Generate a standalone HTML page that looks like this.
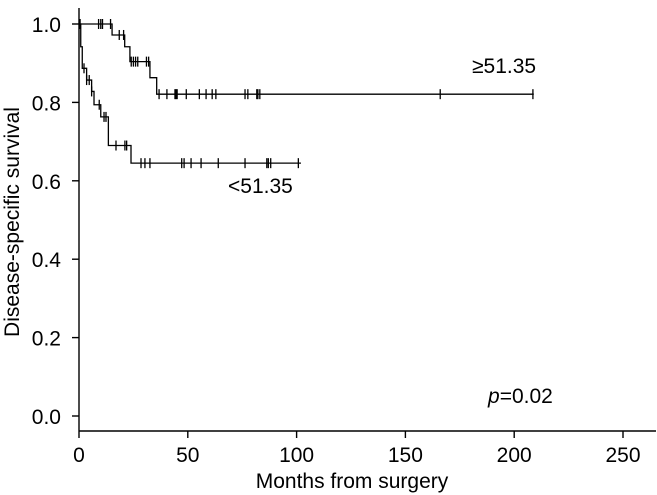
<!DOCTYPE html>
<html><head><meta charset="utf-8"><style>
html,body{margin:0;padding:0;background:#fff}
svg{display:block;font-family:"Liberation Sans",Arial,sans-serif}
</style></head><body>
<svg id="c" width="657" height="495" xmlns="http://www.w3.org/2000/svg"></svg>
<script>
const xTicks=[0,50,100,150,200,250];
const yTicks=[0.0,0.2,0.4,0.6,0.8,1.0];
const highTimes=[0,15.2,21,23.4,32.6,35.7,209];
const highSurv=[1.0,0.972,0.942,0.904,0.863,0.821,0.821];
const highCensor=[0.3,9,10,10.8,14.5,18.5,20.5,24,25,26,27,31,32,36.8,40.4,44.1,44.6,45.1,49.3,55.3,58.4,61.2,62.9,76.3,77.6,81.7,82.2,83.1,166,208.6];
const lowTimes=[0,0.8,1.5,3.5,5.8,6.9,10,13.5,23.9,102];
const lowSurv=[1.0,0.942,0.887,0.857,0.828,0.794,0.763,0.69,0.645,0.645];
const lowCensor=[0.5,2.3,3.5,4.7,5.8,9.3,11.5,12.4,17,21.1,21.9,28.5,30.3,32.6,47.2,48.3,51.5,56.1,64,76.3,86.3,87,88.1,100.8];

const svg=document.getElementById('c');
const NS='http://www.w3.org/2000/svg';
const X=m=>79+m*2.176;
const Y=s=>416-s*392;
function el(t,a,p){const e=document.createElementNS(NS,t);for(const k in a)e.setAttribute(k,a[k]);(p||svg).appendChild(e);return e;}

let ax=el('line',{x1:79,y1:8,x2:79,y2:431,stroke:'#000','stroke-width':1.4});


let bx=el('line',{x1:79,y1:431,x2:656,y2:431,stroke:'#000','stroke-width':1.4});



xTicks.forEach(v=>{
  el('line',{x1:X(v),y1:431,x2:X(v),y2:438,stroke:'#000','stroke-width':1.4});
  const t=el('text',{x:X(v),y:462,'font-size':21,'text-anchor':'middle'});
  t.textContent=v;
  
  
});
yTicks.forEach(v=>{
  el('line',{x1:72,y1:Y(v),x2:79,y2:Y(v),stroke:'#000','stroke-width':1.4});
  const t=el('text',{x:61,y:Y(v)+8,'font-size':21,'text-anchor':'end'});
  t.textContent=v.toFixed(1);
  
  
});
let xt=el('text',{x:352,y:488,'font-size':21,'text-anchor':'middle'});
xt.textContent='Months from surgery';


let yt=el('text',{x:0,y:0,'font-size':21,'text-anchor':'middle',transform:'translate(19,222) rotate(-90)'});
yt.textContent='Disease-specific survival';



function stepAt(times,surv,t){let s=surv[0];for(let i=0;i<times.length;i++){if(times[i]<=t)s=surv[i];}return s;}
function curve(times,surv,cens,name){
  let d='M'+X(times[0])+','+Y(surv[0]);
  for(let i=1;i<times.length;i++){d+=' H'+X(times[i])+' V'+Y(surv[i]);}
  const p=el('path',{d:d,fill:'none',stroke:'#000','stroke-width':1.3});
  
  
  cens.forEach(c=>{
    const s=stepAt(times,surv,c);
    const l=el('line',{x1:X(c),y1:Y(s)-5,x2:X(c),y2:Y(s)+5,stroke:'#000','stroke-width':1.3});
    
    
  });
}
curve(highTimes,highSurv,highCensor,'high-group');
curve(lowTimes,lowSurv,lowCensor,'low-group');

let l1=el('text',{x:472,y:73,'font-size':21});
l1.textContent='≥51.35';


let l2=el('text',{x:228,y:193,'font-size':21});
l2.textContent='<51.35';


let pv=el('text',{x:488,y:403,'font-size':21});
pv.innerHTML='<tspan font-style="italic">p</tspan>=0.02';


</script>
</body></html>
